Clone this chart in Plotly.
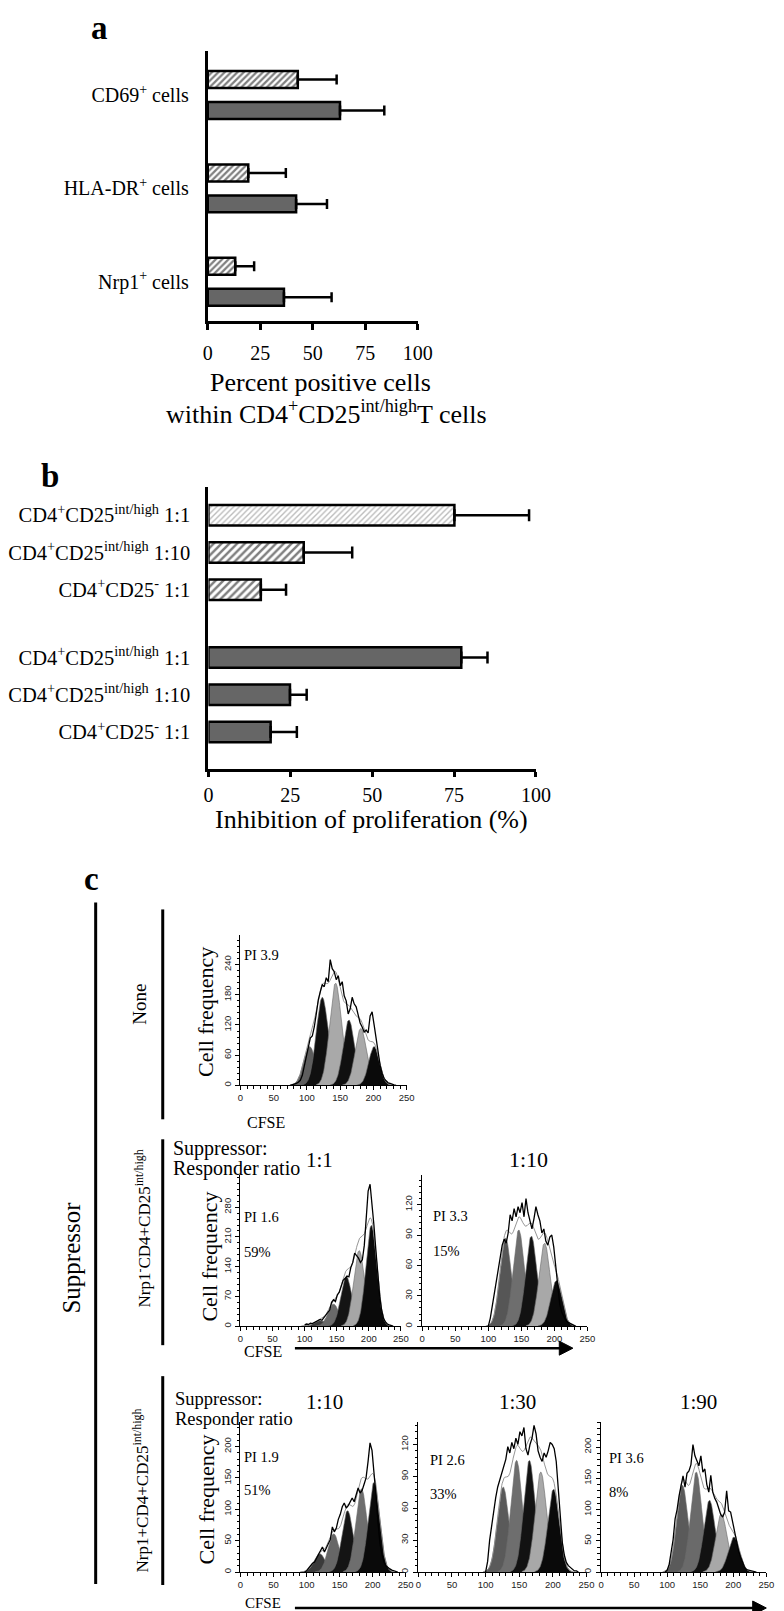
import math
import plotly.graph_objects as go

W, H = 784, 1611
SERIF = "Liberation Serif"
SANS = "Liberation Sans"

# ---------------- Panel a data ----------------
a_labels = ["CD69<sup>+</sup> cells", "HLA-DR<sup>+</sup> cells", "Nrp1<sup>+</sup> cells"]
a_hatched_values = [42.9, 19.3, 13.1]
a_hatched_errors = [18.5, 17.9, 9.0]
a_solid_values = [63.0, 42.1, 36.3]
a_solid_errors = [21.1, 14.7, 22.7]
a_xticks = [0, 25, 50, 75, 100]

# ---------------- Panel b data ----------------
b_labels_hatched = ["CD4<sup>+</sup>CD25<sup>int/high</sup> 1:1",
                    "CD4<sup>+</sup>CD25<sup>int/high</sup> 1:10",
                    "CD4<sup>+</sup>CD25<sup>-</sup> 1:1"]
b_labels_solid = ["CD4<sup>+</sup>CD25<sup>int/high</sup> 1:1",
                  "CD4<sup>+</sup>CD25<sup>int/high</sup> 1:10",
                  "CD4<sup>+</sup>CD25<sup>-</sup> 1:1"]
b_hatched_values = [75.1, 29.1, 16.0]
b_hatched_errors = [22.8, 14.8, 7.7]
b_solid_values = [77.2, 24.9, 19.0]
b_solid_errors = [8.0, 5.1, 8.0]
b_xticks = [0, 25, 50, 75, 100]

# ---------------- Panel c data (CFSE histograms) ----------------
cfse_ticks = [0, 50, 100, 150, 200, 250]
CFSE_STEP = 3

# None
h1_start = 75
h1_counts = [0, 1, 2, 4, 6, 10, 20, 38, 62, 80,
             94, 98, 116, 142, 170, 186, 200, 196, 214, 206,
             250, 232, 226, 210, 218, 198, 206, 178, 168, 142,
             152, 175, 162, 156, 140, 124, 116, 106, 110, 104,
             138, 146, 120, 92, 60, 40, 24, 14, 9, 5,
             4, 2, 1, 0]
h1_peak_centers = [104, 123, 143, 163, 181, 201]
h1_peak_heights = [77, 175, 203, 130, 113, 77]
h1_peak_sd = [9, 9, 9, 8.5, 8.5, 8]
h1_yticks = [0, 60, 120, 180, 240]
h1_label = "PI 3.9"

# Nrp1- 1:1
h2_start = 100
h2_counts = [3, 5, 4, 7, 6, 9, 10, 14, 16, 14,
             20, 24, 30, 38, 56, 62, 58, 74, 80, 92,
             108, 112, 118, 116, 138, 150, 172, 166, 160, 150,
             156, 190, 262, 318, 334, 290, 238, 180, 122, 70,
             38, 18, 10, 5, 3, 1, 0]
h2_peak_centers = [124, 145, 165, 185, 204]
h2_peak_heights = [13, 52, 117, 178, 237]
h2_peak_sd = [8.5, 8.5, 8.5, 8.5, 8.5]
h2_yticks = [0, 70, 140, 210, 280]
h2_label = ["PI 1.6", "59%"]

# Nrp1- 1:10
h3_start = 100
h3_counts = [0, 8, 20, 32, 44, 55, 68, 80, 86, 82,
             92, 110, 104, 116, 108, 118, 112, 122, 108, 126,
             112, 104, 96, 106, 118, 110, 104, 92, 96, 84,
             80, 88, 90, 78, 58, 36, 22, 14, 9, 6,
             4, 3, 2, 1, 0]
h3_peak_centers = [126, 146, 165, 185, 203]
h3_peak_heights = [87, 95, 89, 82, 45]
h3_peak_sd = [8.5, 8.5, 8.5, 8.5, 8.5]
h3_yticks = [0, 30, 60, 90, 120]
h3_label = ["PI 3.3", "15%"]

# Nrp1+ 1:10
h4_start = 97
h4_counts = [0, 2, 6, 10, 14, 16, 22, 28, 34, 40,
             32, 38, 44, 52, 72, 64, 70, 84, 92, 104,
             110, 102, 106, 112, 118, 112, 124, 134, 126, 130,
             140, 150, 176, 206, 194, 162, 122, 80, 46, 28,
             16, 10, 7, 5, 3, 2, 1, 0]
h4_peak_centers = [120, 141, 162, 183, 202]
h4_peak_heights = [29, 61, 98, 133, 143]
h4_peak_sd = [8.5, 8.5, 8.5, 8.5, 8.5]
h4_yticks = [0, 50, 100, 150, 200]
h4_label = ["PI 1.9", "51%"]

# Nrp1+ 1:30
h5_start = 100
h5_counts = [0, 10, 30, 45, 58, 70, 80, 86, 92, 98,
             106, 118, 112, 122, 116, 126, 120, 132, 128, 136,
             116, 110, 120, 126, 138, 130, 114, 108, 104, 112,
             108, 114, 122, 120, 116, 104, 78, 50, 28, 16,
             9, 6, 4, 2, 1, 1, 0]
h5_peak_centers = [126, 146, 165, 182, 201]
h5_peak_heights = [80, 105, 105, 94, 78]
h5_peak_sd = [8.5, 8.5, 8.5, 8.5, 8.5]
h5_yticks = [0, 30, 60, 90, 120]
h5_label = ["PI 2.6", "33%"]

# Nrp1+ 1:90
h6_start = 97
h6_counts = [0, 3, 12, 30, 52, 85, 100, 122, 140, 154,
             136, 158, 162, 172, 204, 186, 178, 170, 186, 160,
             165, 140, 128, 155, 128, 118, 112, 100, 92, 88,
             96, 130, 98, 96, 80, 62, 48, 34, 24, 14,
             8, 4, 3, 2, 1, 1, 0]
h6_peak_centers = [123, 144, 164, 182, 201]
h6_peak_heights = [139, 160, 115, 93, 56]
h6_peak_sd = [8.5, 8.5, 8.5, 8.5, 8.5]
h6_yticks = [0, 50, 100, 150, 200]
h6_label = ["PI 3.6", "8%"]


# ---------------- helpers ----------------
def fx(px):
    return px / W


def fy(py):
    return 1 - py / H


fig = go.Figure()

# ---------------- Panel a ----------------
a_pos = list(range(len(a_labels)))
A_PX = 93.5
a_bar_w = 17 / A_PX
fig.add_trace(go.Bar(
    x=a_hatched_values, y=a_pos, orientation="h", xaxis="x", yaxis="y",
    width=a_bar_w, offset=-24 / A_PX,
    marker=dict(color="white", line=dict(color="black", width=2.5),
                pattern=dict(shape="/", fgcolor="black", bgcolor="white", size=4.5, solidity=0.5)),
    error_x=dict(type="data", symmetric=False, array=a_hatched_errors,
                 arrayminus=[0] * len(a_hatched_errors), color="black", thickness=2.5, width=5),
    hoverinfo="skip"))
fig.add_trace(go.Bar(
    x=a_solid_values, y=a_pos, orientation="h", xaxis="x", yaxis="y",
    width=a_bar_w, offset=7 / A_PX,
    marker=dict(color="#666666", line=dict(color="black", width=2.5)),
    error_x=dict(type="data", symmetric=False, array=a_solid_errors,
                 arrayminus=[0] * len(a_solid_errors), color="black", thickness=2.5, width=5),
    hoverinfo="skip"))

# ---------------- Panel b ----------------
GROUP_GAP = 0.82
b_pos_h = [i for i in range(len(b_labels_hatched))]
b_pos_s = [len(b_labels_hatched) + GROUP_GAP + i for i in range(len(b_labels_solid))]
B_PX = 37.3
b_bar_w = 20.5 / B_PX
fig.add_trace(go.Bar(
    x=b_hatched_values, y=b_pos_h, orientation="h", xaxis="x2", yaxis="y2",
    width=b_bar_w, offset=-b_bar_w / 2,
    marker=dict(color="white", line=dict(color="black", width=2.5),
                pattern=dict(shape="/", fgcolor=["#7a7a7a", "black", "black"], bgcolor="white",
                             size=[4, 5.5, 5.5], solidity=[0.35, 0.45, 0.45])),
    error_x=dict(type="data", symmetric=False, array=b_hatched_errors,
                 arrayminus=[0] * len(b_hatched_errors), color="black", thickness=2.5, width=6),
    hoverinfo="skip"))
fig.add_trace(go.Bar(
    x=b_solid_values, y=b_pos_s, orientation="h", xaxis="x2", yaxis="y2",
    width=b_bar_w, offset=-b_bar_w / 2,
    marker=dict(color="#666666", line=dict(color="black", width=2.5)),
    error_x=dict(type="data", symmetric=False, array=b_solid_errors,
                 arrayminus=[0] * len(b_solid_errors), color="black", thickness=2.5, width=6),
    hoverinfo="skip"))

bar_axis_common = dict(showline=True, linewidth=3, linecolor="black", showgrid=False,
                       zeroline=False, fixedrange=True)
fig.update_layout(
    xaxis=dict(domain=[fx(198.3), fx(414.3)], range=[0, 100], anchor="y", tickvals=a_xticks,
               ticks="outside", ticklen=6, tickwidth=2.5, tickcolor="black",
               tickfont=dict(size=20, family=SERIF, color="black"), ticklabelstandoff=6,
               **bar_axis_common),
    yaxis=dict(domain=[fy(313), fy(43)], range=[2 + 39 / A_PX, -44 / A_PX], anchor="x",
               tickvals=a_pos, ticktext=a_labels, ticks="",
               tickfont=dict(size=20, family=SERIF, color="black"), ticklabelstandoff=12,
               **bar_axis_common),
    xaxis2=dict(domain=[fx(199), fx(536)], range=[0, 100], anchor="y2", tickvals=b_xticks,
                ticks="outside", ticklen=5, tickwidth=2.5, tickcolor="black",
                tickfont=dict(size=20, family=SERIF, color="black"), ticklabelstandoff=1,
                **bar_axis_common),
    yaxis2=dict(domain=[fy(761), fy(479)],
                range=[b_pos_s[-1] + (761 - 724.5) / B_PX, -(507.5 - 479) / B_PX], anchor="x2",
                tickvals=b_pos_h + b_pos_s, ticktext=b_labels_hatched + b_labels_solid, ticks="",
                tickfont=dict(size=20.5, family=SERIF, color="black"), ticklabelstandoff=11,
                **bar_axis_common),
)

# ---------------- Panel c histograms ----------------
hist_specs = [
    dict(counts=h1_counts, start=h1_start, centers=h1_peak_centers, heights=h1_peak_heights,
         sds=h1_peak_sd, yticks=h1_yticks, ymax=298, box=(232, 403, 928, 1078),
         colors=["#5e5e5e", "#101010", "#a9a9a9", "#101010", "#a9a9a9", "#0a0a0a"]),
    dict(counts=h2_counts, start=h2_start, centers=h2_peak_centers, heights=h2_peak_heights,
         sds=h2_peak_sd, yticks=h2_yticks, ymax=355, box=(232, 397, 1168, 1319),
         colors=["#3c3c3c", "#6a6a6a", "#141414", "#a6a6a6", "#0a0a0a"]),
    dict(counts=h3_counts, start=h3_start, centers=h3_peak_centers, heights=h3_peak_heights,
         sds=h3_peak_sd, yticks=h3_yticks, ymax=149, box=(419, 589, 1168, 1319),
         colors=["#565656", "#6e6e6e", "#121212", "#a8a8a8", "#0a0a0a"]),
    dict(counts=h4_counts, start=h4_start, centers=h4_peak_centers, heights=h4_peak_heights,
         sds=h4_peak_sd, yticks=h4_yticks, ymax=239, box=(232, 402, 1415, 1565),
         colors=["#3a3a3a", "#666666", "#141414", "#6e6e6e", "#0a0a0a"]),
    dict(counts=h5_counts, start=h5_start, centers=h5_peak_centers, heights=h5_peak_heights,
         sds=h5_peak_sd, yticks=h5_yticks, ymax=141, box=(415, 588, 1415, 1565),
         colors=["#5a5a5a", "#6e6e6e", "#121212", "#a8a8a8", "#0a0a0a"]),
    dict(counts=h6_counts, start=h6_start, centers=h6_peak_centers, heights=h6_peak_heights,
         sds=h6_peak_sd, yticks=h6_yticks, ymax=240, box=(603, 773, 1415, 1565),
         colors=["#5a5a5a", "#6a6a6a", "#121212", "#a8a8a8", "#0a0a0a"]),
]


def peak_value(x, c, h, s):
    return h * math.exp(-((x - c) ** 2) / (2 * s * s))


layout_axes = {}
for k, spec in enumerate(hist_specs):
    n = k + 3
    xa, ya = f"x{n}", f"y{n}"
    for c, h, s, col in zip(spec["centers"], spec["heights"], spec["sds"], spec["colors"]):
        xs = [c - 3.3 * s + 0.5 * i for i in range(int(6.6 * s / 0.5) + 1)]
        ys = [peak_value(x, c, h, s) for x in xs]
        fig.add_trace(go.Scatter(x=xs, y=ys, xaxis=xa, yaxis=ya, mode="lines", fill="tozeroy",
                                 fillcolor=col, line=dict(color="#6a6a6a", width=0.6),
                                 hoverinfo="skip"))
    lo = min(spec["centers"]) - 30
    hi = max(spec["centers"]) + 30
    mx = [lo + 0.5 * i for i in range(int((hi - lo) / 0.5) + 1)]
    my = [sum(peak_value(x, c, h, s) for c, h, s in zip(spec["centers"], spec["heights"], spec["sds"]))
          for x in mx]
    fig.add_trace(go.Scatter(x=mx, y=my, xaxis=xa, yaxis=ya, mode="lines",
                             line=dict(color="#8a8a8a", width=0.9), hoverinfo="skip"))
    cx = [spec["start"] + CFSE_STEP * i for i in range(len(spec["counts"]))]
    fig.add_trace(go.Scatter(x=cx, y=spec["counts"], xaxis=xa, yaxis=ya, mode="lines",
                             line=dict(color="black", width=1.3), hoverinfo="skip"))
    l, r, t, b = spec["box"]
    tick_font = dict(size=9.5, family=SANS, color="#222222")
    layout_axes[f"xaxis{n}"] = dict(
        domain=[fx(l), fx(r)], range=[0, 250], anchor=ya, tickmode="array", tickvals=cfse_ticks,
        ticks="outside", ticklen=3.5, tickwidth=1, tickcolor="black",
        minor=dict(tickmode="linear", tick0=0, dtick=10, ticks="outside", ticklen=2.5,
                   tickwidth=1, tickcolor="black"),
        showline=True, linewidth=1.2, linecolor="black", showgrid=False, zeroline=False,
        tickfont=tick_font, ticklabelstandoff=0, fixedrange=True)
    ystep = spec["yticks"][1] - spec["yticks"][0]
    layout_axes[f"yaxis{n}"] = dict(
        domain=[fy(b), fy(t)], range=[0, spec["ymax"]], anchor=xa, tickmode="array",
        tickvals=spec["yticks"], ticks="outside", ticklen=4, tickwidth=1, tickcolor="black",
        minor=dict(tickmode="linear", tick0=0, dtick=ystep / 5, ticks="outside", ticklen=2.5,
                   tickwidth=1, tickcolor="black"),
        showline=True, linewidth=1.2, linecolor="black", showgrid=False, zeroline=False,
        tickangle=-90, tickfont=tick_font, ticklabelstandoff=1, fixedrange=True)
fig.update_layout(**layout_axes)


# ---------------- text ----------------
def text(s, x, y, size, anchor="center", angle=0, family=SERIF, color="black"):
    fig.add_annotation(text=s, x=fx(x), y=fy(y), xref="paper", yref="paper", showarrow=False,
                       xanchor=anchor, yanchor="middle", textangle=angle, borderpad=0,
                       font=dict(family=family, size=size, color=color))


text("<b>a</b>", 87, 20, 33)
text("Percent positive cells", 314, 375, 26)
text("within CD4<sup>+</sup>CD25<sup>int/high</sup>T cells", 320, 405, 26)
text("<b>b</b>", 36, 468, 33)
text("Inhibition of proliferation (%)", 367, 812, 26)
text("<b>c</b>", 79, 872, 33)

text("Suppressor", 58, 1250, 25, angle=-90)
text("None", 128, 997, 19, angle=-90)
text("Nrp1<sup>-</sup>CD4+CD25<sup>int/high</sup>", 132, 1221, 17, angle=-90)
text("Nrp1+CD4+CD25<sup>int/high</sup>", 130, 1483, 17, angle=-90)

text("Cell frequency", 196, 1005, 22, angle=-90)
text("Cell frequency", 200, 1249, 22, angle=-90)
text("Cell frequency", 197, 1492, 22, angle=-90)

text(h1_label, 235, 948, 14.5, anchor="left")
text("CFSE", 258, 1115, 16)

text("Suppressor:", 162, 1141, 20, anchor="left")
text("Responder ratio", 162, 1161, 20, anchor="left")
text("1:1", 313, 1153, 21)
text("1:10", 528, 1152, 22)
text(h2_label[0], 235, 1210, 14.5, anchor="left")
text(h2_label[1], 235, 1245, 14.5, anchor="left")
text(h3_label[0], 429, 1209, 14.5, anchor="left")
text(h3_label[1], 429, 1244, 14.5, anchor="left")
text("CFSE", 255, 1344, 16)

text("Suppressor:", 164, 1392, 18.5, anchor="left")
text("Responder ratio", 164, 1412, 18.5, anchor="left")
text("1:10", 318, 1395, 21)
text("1:30", 517, 1395, 21)
text("1:90", 703, 1395, 21)
text(h4_label[0], 235, 1450, 14.5, anchor="left")
text(h4_label[1], 235, 1483, 14.5, anchor="left")
text(h5_label[0], 426, 1453, 14.5, anchor="left")
text(h5_label[1], 426, 1487, 14.5, anchor="left")
text(h6_label[0], 610, 1451, 14.5, anchor="left")
text(h6_label[1], 610, 1485, 14.5, anchor="left")
text("CFSE", 255, 1596, 15)


# ---------------- lines & arrows ----------------
def vline(x, y0, y1, w=3):
    fig.add_shape(type="line", xref="paper", yref="paper", x0=fx(x), x1=fx(x), y0=fy(y0), y1=fy(y1),
                  line=dict(color="black", width=w))


def arrow(x0, x1, y):
    fig.add_shape(type="line", xref="paper", yref="paper", x0=fx(x0), x1=fx(x1 - 12), y0=fy(y), y1=fy(y),
                  line=dict(color="black", width=2.5))
    path = (f"M {fx(x1 - 14)} {fy(y - 7)} L {fx(x1)} {fy(y)} L {fx(x1 - 14)} {fy(y + 7)} Z")
    fig.add_shape(type="path", xref="paper", yref="paper", path=path,
                  fillcolor="black", line=dict(color="black", width=1))


vline(83, 895, 1577)
vline(152, 902, 1112)
vline(152, 1132, 1338)
vline(152, 1369, 1578)
arrow(288, 574, 1341)
arrow(288, 773, 1601)

fig.update_layout(width=W, height=H, margin=dict(l=0, r=0, t=0, b=0),
                  paper_bgcolor="white", plot_bgcolor="rgba(0,0,0,0)",
                  showlegend=False, barmode="overlay",
                  font=dict(family=SERIF, color="black"))

fig.write_html("out.html")
